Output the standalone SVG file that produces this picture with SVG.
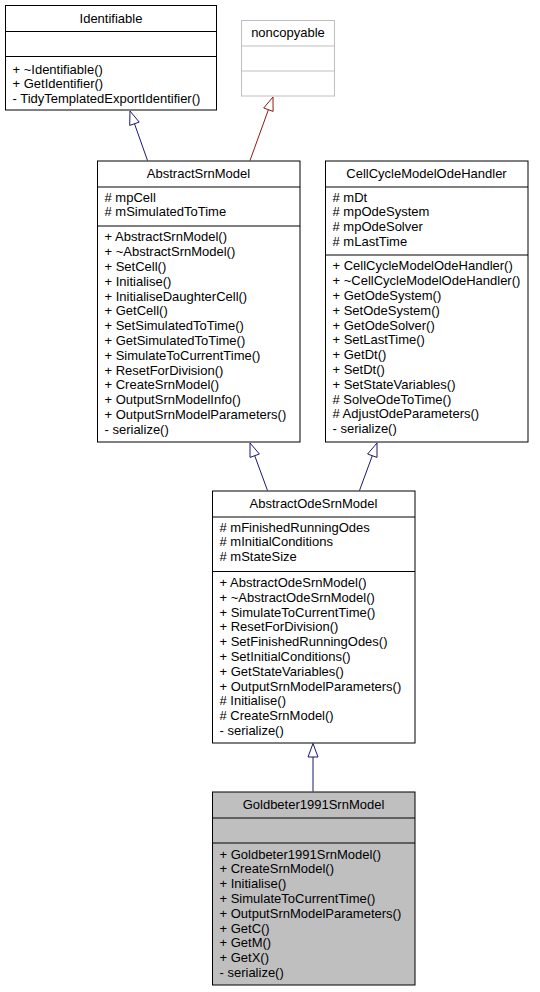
<svg xmlns="http://www.w3.org/2000/svg" width="540" height="992" viewBox="0 0 540 992">
<style>
text{font-family:"Liberation Sans",Helvetica,Arial,sans-serif;font-size:13px;fill:#000}
.t{text-anchor:middle}
.box{fill:#fff;stroke:#000;stroke-width:1}
.gbox{fill:#fff;stroke:#bfbfbf;stroke-width:1}
.sel{fill:#bfbfbf;stroke:#000;stroke-width:1}
.sep{stroke:#000;stroke-width:1}
.gsep{stroke:#bfbfbf;stroke-width:1}
.pub{fill:none;stroke:#191970;stroke-width:1}
.pubh{fill:#fff;stroke:#191970;stroke-width:1}
.pri{fill:none;stroke:#8b1a1a;stroke-width:1}
.prih{fill:#fff;stroke:#8b1a1a;stroke-width:1}
</style>
<rect width="540" height="992" fill="#fff"/>
<g id="connectors">
<line class="pub" x1="147.5" y1="160.5" x2="134.5" y2="123.8"/>
<polygon class="pubh" points="130,111 139.2,122.1 129.7,125.4"/>
<line class="pri" x1="250" y1="160.5" x2="268.4" y2="109.7"/>
<polygon class="prih" points="273,97 273.1,111.4 263.7,108"/>
<line class="pub" x1="267.5" y1="490.5" x2="254.7" y2="455.7"/>
<polygon class="pubh" points="250,443 259.4,454 250,457.4"/>
<line class="pub" x1="359.5" y1="490.5" x2="372.3" y2="455.7"/>
<polygon class="pubh" points="377,443 377,457.4 367.6,454"/>
<line class="pub" x1="313" y1="791.5" x2="313" y2="757"/>
<polygon class="pubh" points="313,743.5 318,757 308,757"/>
</g>
<g id="Identifiable">
<rect class="box" x="5.5" y="5.5" width="211" height="104.5"/>
<line class="sep" x1="5.5" y1="31.5" x2="216.5" y2="31.5"/>
<line class="sep" x1="5.5" y1="56.5" x2="216.5" y2="56.5"/>
<text class="t" x="111" y="23">Identifiable</text>
<text x="12.5" y="73.5">+ ~Identifiable()</text>
<text x="12.5" y="88.3">+ GetIdentifier()</text>
<text x="12.5" y="103.1">- TidyTemplatedExportIdentifier()</text>
</g>
<g id="noncopyable">
<rect class="gbox" x="241.5" y="20.5" width="93" height="75.5"/>
<line class="gsep" x1="241.5" y1="46" x2="334.5" y2="46"/>
<line class="gsep" x1="241.5" y1="71" x2="334.5" y2="71"/>
<text class="t" x="288" y="37">noncopyable</text>
</g>
<g id="AbstractSrnModel">
<rect class="box" x="97.5" y="161" width="202.5" height="281"/>
<line class="sep" x1="97.5" y1="187" x2="300" y2="187"/>
<line class="sep" x1="97.5" y1="226" x2="300" y2="226"/>
<text class="t" x="198.5" y="178">AbstractSrnModel</text>
<text x="104.5" y="201.5"># mpCell</text>
<text x="104.5" y="216.3"># mSimulatedToTime</text>
<text x="104.5" y="241.3">+ AbstractSrnModel()</text>
<text x="104.5" y="256.1">+ ~AbstractSrnModel()</text>
<text x="104.5" y="270.9">+ SetCell()</text>
<text x="104.5" y="285.7">+ Initialise()</text>
<text x="104.5" y="300.5">+ InitialiseDaughterCell()</text>
<text x="104.5" y="315.3">+ GetCell()</text>
<text x="104.5" y="330.1">+ SetSimulatedToTime()</text>
<text x="104.5" y="344.9">+ GetSimulatedToTime()</text>
<text x="104.5" y="359.7">+ SimulateToCurrentTime()</text>
<text x="104.5" y="374.5">+ ResetForDivision()</text>
<text x="104.5" y="389.3">+ CreateSrnModel()</text>
<text x="104.5" y="404.1">+ OutputSrnModelInfo()</text>
<text x="104.5" y="418.9">+ OutputSrnModelParameters()</text>
<text x="104.5" y="433.7">- serialize()</text>
</g>
<g id="CellCycleModelOdeHandler">
<rect class="box" x="325.5" y="161" width="202.5" height="281"/>
<line class="sep" x1="325.5" y1="187" x2="528" y2="187"/>
<line class="sep" x1="325.5" y1="255" x2="528" y2="255"/>
<text class="t" x="426.5" y="178">CellCycleModelOdeHandler</text>
<text x="332.5" y="201.5"># mDt</text>
<text x="332.5" y="216.3"># mpOdeSystem</text>
<text x="332.5" y="231.1"># mpOdeSolver</text>
<text x="332.5" y="245.9"># mLastTime</text>
<text x="332.5" y="270.3">+ CellCycleModelOdeHandler()</text>
<text x="332.5" y="285.1">+ ~CellCycleModelOdeHandler()</text>
<text x="332.5" y="299.9">+ GetOdeSystem()</text>
<text x="332.5" y="314.7">+ SetOdeSystem()</text>
<text x="332.5" y="329.5">+ GetOdeSolver()</text>
<text x="332.5" y="344.3">+ SetLastTime()</text>
<text x="332.5" y="359.1">+ GetDt()</text>
<text x="332.5" y="373.9">+ SetDt()</text>
<text x="332.5" y="388.7">+ SetStateVariables()</text>
<text x="332.5" y="403.5"># SolveOdeToTime()</text>
<text x="332.5" y="418.3"># AdjustOdeParameters()</text>
<text x="332.5" y="433.1">- serialize()</text>
</g>
<g id="AbstractOdeSrnModel">
<rect class="box" x="212.5" y="491" width="202.5" height="252"/>
<line class="sep" x1="212.5" y1="517" x2="415" y2="517"/>
<line class="sep" x1="212.5" y1="571.5" x2="415" y2="571.5"/>
<text class="t" x="313.5" y="508">AbstractOdeSrnModel</text>
<text x="219.5" y="531.5"># mFinishedRunningOdes</text>
<text x="219.5" y="546.3"># mInitialConditions</text>
<text x="219.5" y="561.1"># mStateSize</text>
<text x="219.5" y="587">+ AbstractOdeSrnModel()</text>
<text x="219.5" y="601.8">+ ~AbstractOdeSrnModel()</text>
<text x="219.5" y="616.6">+ SimulateToCurrentTime()</text>
<text x="219.5" y="631.4">+ ResetForDivision()</text>
<text x="219.5" y="646.2">+ SetFinishedRunningOdes()</text>
<text x="219.5" y="661">+ SetInitialConditions()</text>
<text x="219.5" y="675.8">+ GetStateVariables()</text>
<text x="219.5" y="690.6">+ OutputSrnModelParameters()</text>
<text x="219.5" y="705.4"># Initialise()</text>
<text x="219.5" y="720.2"># CreateSrnModel()</text>
<text x="219.5" y="735">- serialize()</text>
</g>
<g id="Goldbeter1991SrnModel">
<rect class="sel" x="212.5" y="792" width="202.5" height="193"/>
<line class="sep" x1="212.5" y1="818" x2="415" y2="818"/>
<line class="sep" x1="212.5" y1="843" x2="415" y2="843"/>
<text class="t" x="313.5" y="809">Goldbeter1991SrnModel</text>
<text x="219.5" y="858.5">+ Goldbeter1991SrnModel()</text>
<text x="219.5" y="873.3">+ CreateSrnModel()</text>
<text x="219.5" y="888.1">+ Initialise()</text>
<text x="219.5" y="902.9">+ SimulateToCurrentTime()</text>
<text x="219.5" y="917.7">+ OutputSrnModelParameters()</text>
<text x="219.5" y="932.5">+ GetC()</text>
<text x="219.5" y="947.3">+ GetM()</text>
<text x="219.5" y="962.1">+ GetX()</text>
<text x="219.5" y="976.9">- serialize()</text>
</g>
</svg>
